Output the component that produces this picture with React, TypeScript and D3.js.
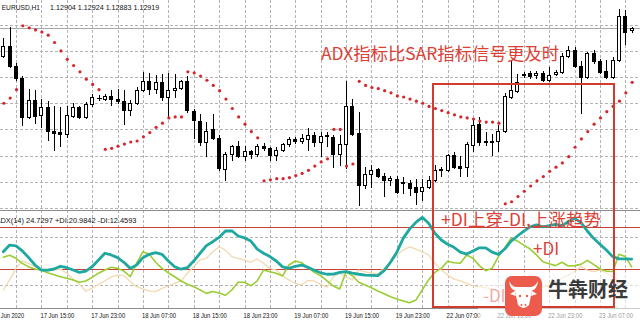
import React from "react";
import * as d3 from "d3";

// EURUSD H1 candles (17 Jun 09:00 .. 23 Jun 12:00)
const opens = [
  1.1265, 1.1275, 1.1256, 1.1244, 1.1207, 1.1223, 1.1209, 1.1216, 1.1194, 1.1193,
  1.1191, 1.1208, 1.1216, 1.1207, 1.1219, 1.1225, 1.1224, 1.1227, 1.1224, 1.1222,
  1.1214, 1.122, 1.1233, 1.1241, 1.1234, 1.124, 1.1226, 1.1233, 1.1235, 1.1241,
  1.1213, 1.1203, 1.1183, 1.1195, 1.1187, 1.1157, 1.1172, 1.1179, 1.117, 1.1174,
  1.1172, 1.1179, 1.1177, 1.1171, 1.1175, 1.1181, 1.1186, 1.1184, 1.1186, 1.119,
  1.1183, 1.1189, 1.1188, 1.1172, 1.1181, 1.1217, 1.1192, 1.1142, 1.1152, 1.1157,
  1.1151, 1.1147, 1.1148, 1.1145, 1.1144, 1.114, 1.1136, 1.114, 1.1147, 1.1156,
  1.1156, 1.1171, 1.116, 1.1159, 1.118, 1.12, 1.1184, 1.1183, 1.1184, 1.1194,
  1.1226, 1.1232, 1.1247, 1.1249, 1.1247, 1.1249, 1.1242, 1.1248, 1.125, 1.1265,
  1.1271, 1.1256, 1.1245, 1.1268, 1.126, 1.1251, 1.1245, 1.1261, 1.1303, 1.12904,
];
const highs = [
  1.1282, 1.1293, 1.1258, 1.1246, 1.1234, 1.1233, 1.1224, 1.1222, 1.1217, 1.1216,
  1.1217, 1.122, 1.1217, 1.1221, 1.1229, 1.1228, 1.1229, 1.1233, 1.1234, 1.1233,
  1.1223, 1.1236, 1.125, 1.1249, 1.1247, 1.1248, 1.1249, 1.1248, 1.1242, 1.1246,
  1.1215, 1.121, 1.1202, 1.121, 1.119, 1.1173, 1.118, 1.1184, 1.1179, 1.1175,
  1.1181, 1.1182, 1.1178, 1.1178, 1.1182, 1.1188, 1.1188, 1.1191, 1.1196, 1.1193,
  1.1193, 1.1193, 1.119, 1.119, 1.1241, 1.1224, 1.1212, 1.1159, 1.1161, 1.1158,
  1.1153, 1.1151, 1.1151, 1.115, 1.1147, 1.1148, 1.1148, 1.1151, 1.1161, 1.1159,
  1.1172, 1.1173, 1.117, 1.1183, 1.1206, 1.1207, 1.1193, 1.1191, 1.1199, 1.123,
  1.126, 1.1248, 1.125, 1.1251, 1.1251, 1.1251, 1.1255, 1.1252, 1.1268, 1.1275,
  1.1274, 1.126, 1.1269, 1.1271, 1.1262, 1.1261, 1.1264, 1.131, 1.1309, 1.12924,
];
const lows = [
  1.1264, 1.1255, 1.1242, 1.1199, 1.1206, 1.1201, 1.1197, 1.1185, 1.1175, 1.1179,
  1.1188, 1.1207, 1.1206, 1.1206, 1.1217, 1.1223, 1.1223, 1.1218, 1.122, 1.12,
  1.1209, 1.1219, 1.1232, 1.1229, 1.123, 1.1223, 1.1207, 1.1226, 1.1234, 1.1212,
  1.1187, 1.118, 1.117, 1.1186, 1.1156, 1.1147, 1.1166, 1.1169, 1.1166, 1.1168,
  1.117, 1.1175, 1.1166, 1.1166, 1.1174, 1.1179, 1.1182, 1.1182, 1.1175, 1.1179,
  1.117, 1.1179, 1.1159, 1.1161, 1.1158, 1.119, 1.1123, 1.1139, 1.114, 1.115,
  1.1131, 1.1142, 1.1134, 1.1134, 1.1132, 1.1124, 1.1128, 1.1139, 1.1146, 1.1151,
  1.1155, 1.1158, 1.1151, 1.1151, 1.1174, 1.118, 1.118, 1.1171, 1.1174, 1.1193,
  1.1225, 1.1231, 1.1245, 1.1244, 1.1244, 1.1241, 1.1241, 1.1247, 1.1249, 1.1264,
  1.1255, 1.1211, 1.1244, 1.1258, 1.1249, 1.1244, 1.1244, 1.126, 1.1277, 1.12883,
];
const closes = [
  1.1275, 1.1256, 1.1244, 1.1207, 1.1223, 1.1208, 1.1216, 1.1194, 1.1192, 1.1191,
  1.1209, 1.1216, 1.1207, 1.1219, 1.1226, 1.1225, 1.1227, 1.1224, 1.1222, 1.1214,
  1.122, 1.1233, 1.1241, 1.1234, 1.124, 1.1226, 1.1233, 1.1235, 1.1241, 1.1214,
  1.1204, 1.1183, 1.1194, 1.1187, 1.1158, 1.1172, 1.1179, 1.117, 1.1174, 1.1172,
  1.1179, 1.1177, 1.1171, 1.1175, 1.1181, 1.1186, 1.1184, 1.1187, 1.119, 1.1183,
  1.1189, 1.119, 1.1172, 1.1181, 1.1217, 1.1191, 1.1142, 1.1152, 1.1156, 1.1151,
  1.1147, 1.1149, 1.1135, 1.1144, 1.1139, 1.1135, 1.114, 1.1147, 1.1156, 1.1157,
  1.1171, 1.1159, 1.1158, 1.1181, 1.1199, 1.1183, 1.1183, 1.1184, 1.1194, 1.1227,
  1.1233, 1.124, 1.1248, 1.1246, 1.1249, 1.1242, 1.1247, 1.125, 1.1265, 1.1271,
  1.1256, 1.1245, 1.1268, 1.126, 1.125, 1.1245, 1.1261, 1.1303, 1.1288, 1.12919,
];

// Parabolic SAR per bar
const sar = [
  1.122, 1.1225, 1.1233, 1.1294, 1.1292, 1.129, 1.1288, 1.1285, 1.1278, 1.127,
  1.1262, 1.1256, 1.125, 1.1243, 1.1238, 1.1233, 1.1176, 1.1177, 1.1179, 1.1181,
  1.1183, 1.1184, 1.1188, 1.1192, 1.1197, 1.1201, 1.1206, 1.1207, 1.1207, 1.125,
  1.1249, 1.1246, 1.1242, 1.1237, 1.1232, 1.1224, 1.1215, 1.1207, 1.12, 1.1193,
  1.1187, 1.1146, 1.1147, 1.1148, 1.1148, 1.1149, 1.1151, 1.1153, 1.1156, 1.116,
  1.1164, 1.1167, 1.1195, 1.1195, 1.116, 1.1162, 1.1241, 1.1237, 1.1235, 1.1234,
  1.1232, 1.123, 1.1227, 1.1226, 1.1224, 1.1222, 1.122, 1.1217, 1.1215, 1.1213,
  1.1211, 1.1209, 1.1207, 1.1206, 1.1205, 1.1203, 1.1202, 1.1202, 1.1201, 1.1124,
  1.1126, 1.1131, 1.1136, 1.1141, 1.1146, 1.115, 1.1155, 1.1159, 1.1163, 1.1169,
  1.1178, 1.1186, 1.1193, 1.12, 1.1206, 1.1212, 1.1217, 1.1222, 1.123, 1.124,
];

// ADX(14) subwindow
const adx = [
  28.2, 31.4, 31.0, 28.6, 25.4, 21.9, 19.5, 19.5, 20.0, 21.3,
  20.6, 19.5, 18.4, 19.0, 21.1, 24.3, 27.5, 26.7, 25.4, 23.2,
  20.3, 21.9, 25.4, 27.0, 27.8, 27.0, 23.8, 21.1, 19.9, 20.6,
  23.8, 27.5, 31.1, 33.0, 35.1, 38.1, 38.2, 35.7, 34.8, 33.3,
  29.5, 27.5, 25.9, 23.8, 21.0, 20.3, 21.3, 21.9, 20.8, 19.4,
  18.2, 17.5, 17.6, 18.4, 18.7, 18.0, 17.5, 17.1, 17.0, 16.8,
  19.2, 23.2, 28.0, 34.6, 39.0, 42.2, 44.6, 41.8, 37.0, 33.8,
  31.8, 30.3, 28.0, 27.1, 28.6, 30.1, 30.1, 28.0, 27.0, 29.5,
  33.3, 35.7, 38.0, 40.1, 41.0, 40.1, 40.6, 41.3, 40.6, 42.5,
  44.1, 42.2, 38.1, 34.6, 31.8, 29.0, 25.9, 24.8, 24.8, 24.7297,
];
const plusDI = [
  25.6, 26.5, 25.1, 22.7, 21.0, 20.0, 19.4, 18.2, 17.3, 16.3,
  15.6, 14.8, 13.7, 14.3, 16.0, 18.0, 19.5, 20.8, 20.3, 19.0,
  16.3, 22.7, 28.2, 27.0, 23.2, 20.3, 18.2, 16.3, 14.3, 12.7,
  11.6, 10.0, 8.4, 9.3, 8.6, 7.5, 10.0, 13.7, 13.7, 12.0,
  14.3, 19.5, 18.7, 18.0, 16.7, 21.9, 23.8, 23.0, 20.6, 18.4,
  16.8, 14.3, 11.9, 10.5, 18.7, 16.8, 13.7, 12.4, 11.1, 9.5,
  8.2, 6.8, 5.7, 4.8, 3.9, 5.2, 10.0, 14.8, 18.4, 20.3,
  23.7, 23.0, 22.7, 26.7, 25.1, 21.6, 19.2, 20.3, 25.9, 30.1,
  34.6, 33.3, 31.4, 29.5, 26.7, 23.5, 22.5, 21.6, 23.2, 21.4,
  21.6, 22.2, 24.1, 22.2, 20.0, 19.0, 18.7, 27.0, 25.9, 20.9842,
];
const minusDI = [
  10.0, 14.8, 20.3, 23.8, 22.7, 21.1, 20.0, 19.0, 19.5, 20.0,
  18.0, 15.2, 12.7, 9.5, 10.8, 12.7, 14.3, 16.3, 17.1, 16.8,
  14.0, 11.6, 10.5, 9.5, 9.2, 10.8, 11.9, 13.2, 14.3, 18.0,
  21.1, 24.3, 25.1, 28.2, 30.6, 29.0, 25.9, 25.1, 24.3, 23.2,
  24.8, 22.7, 20.3, 19.5, 16.7, 14.8, 13.2, 12.4, 14.6, 14.3,
  12.7, 11.4, 16.3, 18.1, 16.2, 14.8, 19.5, 18.6, 18.1, 17.6,
  20.5, 22.9, 26.7, 29.0, 30.5, 29.5, 28.2, 26.7, 22.7, 19.5,
  17.1, 15.2, 14.3, 13.2, 12.0, 11.6, 11.1, 10.5, 9.5, 8.9,
  8.0, 7.3, 7.6, 8.4, 10.0, 11.1, 12.4, 14.0, 15.6, 17.1,
  18.7, 21.1, 19.5, 18.7, 19.5, 18.0, 16.3, 14.3, 13.7, 12.4593,
];

const priceGrid = [1.112, 1.1145, 1.117, 1.1195, 1.122, 1.1245, 1.127, 1.1295];
const adxLevels = [20, 40];
const adxGrid = [12.4, 35.2];
const labelBars = [-2, 6, 14, 22, 30, 38, 46, 54, 62, 70, 78, 86, 94];
const timeLabels = [
  "16 Jun 2020", "17 Jun 15:00", "17 Jun 23:00", "18 Jun 07:00", "18 Jun 15:00",
  "18 Jun 23:00", "19 Jun 07:00", "19 Jun 15:00", "19 Jun 23:00", "22 Jun 07:00",
  "22 Jun 15:00", "22 Jun 23:00", "23 Jun 07:00",
];

const W = 640;
const H = 323;
const MAIN_BOTTOM = 210;
const SUB_TOP = 212;
const SUB_BOTTOM = 308;
const RED = "#dc4135";
const CJK = "'Noto Sans CJK SC', 'Noto Sans', sans-serif";
const UI = "'Liberation Sans', Arial, sans-serif";

export default function App() {
  const n = closes.length;
  const x = d3.scaleLinear().domain([0, n - 1]).range([3.3, 631.7]);
  const yP = d3.scaleLinear().domain([1.11181, 1.13186]).range([MAIN_BOTTOM, 0]);
  const yA = d3.scaleLinear().domain([0, 47.14]).range([311, SUB_TOP]);

  const gridBars = d3.range(2, n, 4);
  const lineGen = (vals: number[]) =>
    d3.line<number>().x((_, i) => x(i)).y((v) => yA(v))(vals) || "";

  const last = n - 1;
  const header = [opens[last], highs[last], lows[last], closes[last]]
    .map((v) => v.toFixed(5))
    .join(" ");
  const adxText = `ADX(14) ${adx[last].toFixed(4)} +DI:${plusDI[last].toFixed(4)} -DI:${minusDI[last].toFixed(4)}`;

  return (
    <svg
      width={W}
      height={H}
      viewBox={`0 0 ${W} ${H}`}
      style={{ position: "absolute", left: 0, top: 0, background: "#fff" }}
    >
      <defs>
        <clipPath id="mainClip">
          <rect x={0} y={0} width={W} height={MAIN_BOTTOM} />
        </clipPath>
        <clipPath id="subClip">
          <rect x={0} y={SUB_TOP} width={W} height={SUB_BOTTOM - SUB_TOP} />
        </clipPath>
      </defs>
      <rect x={0} y={0} width={W} height={H} fill="#fff" />

      {/* grid */}
      <g stroke="#b4b4b4" strokeWidth={1} strokeDasharray="3,2" shapeRendering="crispEdges">
        {gridBars.map((b) => (
          <line key={"v" + b} x1={Math.round(x(b)) + 0.5} x2={Math.round(x(b)) + 0.5} y1={0} y2={SUB_BOTTOM} />
        ))}
        {priceGrid.map((p) => (
          <line key={"h" + p} x1={0} x2={W} y1={Math.round(yP(p)) + 0.5} y2={Math.round(yP(p)) + 0.5} />
        ))}
        {adxGrid.map((v) => (
          <line key={"a" + v} x1={0} x2={W} y1={Math.round(yA(v)) + 0.5} y2={Math.round(yA(v)) + 0.5} />
        ))}
      </g>

      {/* bid line */}
      <line
        x1={0}
        x2={W}
        y1={Math.round(yP(closes[last])) + 0.5}
        y2={Math.round(yP(closes[last])) + 0.5}
        stroke="#a8a8a8"
        strokeWidth={1}
        shapeRendering="crispEdges"
      />

      {/* window separators */}
      <g stroke="#8c8c8c" strokeWidth={1} shapeRendering="crispEdges">
        <line x1={0} x2={W} y1={MAIN_BOTTOM + 0.5} y2={MAIN_BOTTOM + 0.5} />
        <line x1={0} x2={W} y1={SUB_BOTTOM + 0.5} y2={SUB_BOTTOM + 0.5} />
      </g>

      {/* candles */}
      <g clipPath="url(#mainClip)" shapeRendering="crispEdges">
        {closes.map((c, i) => {
          const o = opens[i];
          const r = Math.round(x(i));
          const top = Math.round(yP(Math.max(o, c)));
          const bot = Math.round(yP(Math.min(o, c)));
          const bull = c > o;
          return (
            <g key={i}>
              <line
                x1={r + 0.5}
                x2={r + 0.5}
                y1={Math.round(yP(highs[i]))}
                y2={Math.round(yP(lows[i])) + 1}
                stroke="#000"
              />
              {bot - top < 1 ? (
                <line x1={r - 2} x2={r + 3} y1={top + 0.5} y2={top + 0.5} stroke="#000" />
              ) : (
                <rect
                  x={r - 1.5}
                  y={top + 0.5}
                  width={3}
                  height={bot - top}
                  fill={bull ? "#fff" : "#000"}
                  stroke="#000"
                  strokeWidth={1}
                />
              )}
            </g>
          );
        })}
      </g>

      {/* parabolic SAR */}
      <g clipPath="url(#mainClip)" fill="#d4262b">
        {sar.map((s, i) => (
          <circle key={i} cx={x(i) + 0.5} cy={yP(s)} r={1.6} />
        ))}
      </g>

      {/* header */}
      <text x={1.7} y={9.8} fontFamily={UI} fontSize={8} fill="#111" textLength={38.3} lengthAdjust="spacingAndGlyphs">
        EURUSD,H1
      </text>
      <text x={50} y={9.8} fontFamily={UI} fontSize={8} fill="#111" textLength={109.3} lengthAdjust="spacingAndGlyphs">
        {header}
      </text>

      {/* ADX panel */}
      <g stroke="#c8403a" strokeWidth={1} shapeRendering="crispEdges">
        {adxLevels.map((v) => (
          <line key={v} x1={0} x2={W} y1={Math.round(yA(v)) + 0.5} y2={Math.round(yA(v)) + 0.5} />
        ))}
      </g>
      <g clipPath="url(#subClip)" fill="none" strokeLinejoin="round" strokeLinecap="round">
        <path d={lineGen(minusDI)} stroke="#f2d9b0" strokeWidth={1.3} />
        <path d={lineGen(plusDI)} stroke="#9acd32" strokeWidth={1.6} />
        <path d={lineGen(adx)} stroke="#1fa8a0" strokeWidth={2.8} />
      </g>
      <text x={-4.5} y={222.5} fontFamily={UI} fontSize={8} fill="#111" textLength={141} lengthAdjust="spacingAndGlyphs">
        {adxText}
      </text>

      {/* time axis */}
      <g fontFamily={UI} fontSize={8} fill="#111">
        {labelBars.map((b, i) => (
          <text
            key={b}
            x={i === 0 ? x(b) + 2.4 : x(b) - 1}
            y={318}
            textLength={i === 0 ? 31 : 34}
            lengthAdjust="spacingAndGlyphs"
          >
            {timeLabels[i]}
          </text>
        ))}
      </g>

      {/* annotations */}
      <text x={321} y={60} fontFamily={CJK} fontSize={17.4} fill={RED}>
        ADX指标比SAR指标信号更及时
      </text>
      <text x={441} y={226} fontFamily={CJK} fontSize={17.5} fill={RED}>
        +DI上穿-DI,上涨趋势
      </text>
      <text x={533} y={255} fontFamily={CJK} fontSize={17} fill={RED}>
        +DI
      </text>
      <text x={483} y={302} fontFamily={CJK} fontSize={17} fill={RED}>
        -DI
      </text>

      {/* watermark */}
      <rect x={478} y={272} width={162} height={51} fill="#fff" opacity={0.55} />
      <rect x={433} y={84} width={181} height={223} fill="none" stroke="#d23c2f" strokeWidth={2} />
      <g>
        <rect x={505} y={276} width={37} height={40} rx={7} fill="#ec5b4b" />
        <path
          d="M509,281 Q510,290 516,291 L531,291 Q537,290 538,281 Q535,287 530,287 L517,287 Q512,287 509,281 Z"
          fill="#fff"
        />
        <path d="M515,291 L532,291 L529,305 Q523.5,311 518,305 Z" fill="#fff" />
        <path d="M515,291 L510,294 L516,296 Z M532,291 L537,294 L531,296 Z" fill="#fff" />
        <circle cx={520} cy={296} r={1.2} fill="#ec5b4b" />
        <circle cx={527} cy={296} r={1.2} fill="#ec5b4b" />
        <circle cx={521.5} cy={305} r={1} fill="#ec5b4b" />
        <circle cx={525.5} cy={305} r={1} fill="#ec5b4b" />
      </g>
      <text x={548} y={297} fontFamily={CJK} fontSize={20} fontWeight={700} fill="#3a3a3a">
        牛犇财经
      </text>
    </svg>
  );
}
